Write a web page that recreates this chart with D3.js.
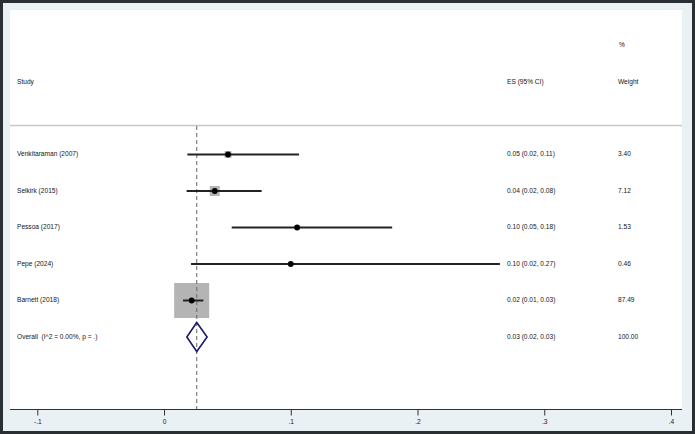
<!DOCTYPE html>
<html><head><meta charset="utf-8">
<script src="https://cdn.jsdelivr.net/npm/d3@7"></script>
<style>html,body{margin:0;padding:0;background:#fff;}svg{display:block;}text{font-family:"Liberation Sans",Arial,sans-serif;fill:#151515;white-space:pre;}</style>
</head><body><svg id="c" width="695" height="434"></svg>
<script>
const studies = ["Venkitaraman (2007)", "Selkirk (2015)", "Pessoa (2017)", "Pepe (2024)", "Barnett (2018)"];
const es = [0.0505, 0.040, 0.105, 0.100, 0.0218];
const lo = [0.0184, 0.0178, 0.0534, 0.0213, 0.015];
const hi = [0.1065, 0.077, 0.180, 0.265, 0.031];
const weights = [3.40, 7.12, 1.53, 0.46, 87.49];
const esLabels = ["0.05 (0.02, 0.11)", "0.04 (0.02, 0.08)", "0.10 (0.05, 0.18)", "0.10 (0.02, 0.27)", "0.02 (0.01, 0.03)"];
const weightLabels = ["3.40", "7.12", "1.53", "0.46", "87.49"];
const overallLabel = "Overall  (I^2 = 0.00%, p = .)";
const overallES = 0.0258, overallLo = 0.018, overallHi = 0.034;
const overallESLabel = "0.03 (0.02, 0.03)";
const overallWeightLabel = "100.00";
const tickValues = [-0.1, 0, 0.1, 0.2, 0.3, 0.4];
const tickLabels = ["-.1", "0", ".1", ".2", ".3", ".4"];

const svg = d3.select("#c");
// frame
svg.append("rect").attr("x",1.5).attr("y",1.5).attr("width",692).attr("height",431)
  .attr("fill","#eaf1f4").attr("stroke","#2a2f33").attr("stroke-width",3);
svg.append("rect").attr("x",10).attr("y",10).attr("width",672).attr("height",399).attr("fill","#fff");
svg.append("line").attr("x1",10).attr("x2",682).attr("y1",125.5).attr("y2",125.5)
  .attr("stroke","#c8c8c8").attr("stroke-width",1.5);

const x = d3.scaleLinear().domain([-0.1, 0.4]).range([37.3, 671]);
const rows = d3.range(studies.length + 1);
const y = d3.scalePoint().domain(rows).range([154.5, 337]);
const side = d3.scaleSqrt().domain([0, 87.49]).range([0, 35]);
const FS = 6.6;

// headers
const hdr = svg.append("g").attr("font-size", FS);
hdr.append("text").attr("x",17).attr("y",82).attr("dominant-baseline","middle").text("Study");
hdr.append("text").attr("x",507).attr("y",82).attr("dominant-baseline","middle").text("ES (95% CI)");
hdr.append("text").attr("x",619).attr("y",45).attr("dominant-baseline","middle").text("%");
hdr.append("text").attr("x",618).attr("y",82).attr("dominant-baseline","middle").text("Weight");

// squares
svg.append("g").selectAll("rect").data(studies).join("rect")
  .attr("x",(d,i)=>x(es[i]) - side(weights[i])/2)
  .attr("y",(d,i)=>y(i) - side(weights[i])/2)
  .attr("width",(d,i)=>side(weights[i]))
  .attr("height",(d,i)=>side(weights[i]))
  .attr("fill","#b4b4b4");

// overall dashed line
svg.append("line").attr("x1",x(overallES)).attr("x2",x(overallES)).attr("y1",126).attr("y2",409)
  .attr("stroke","#666").attr("stroke-width",1).attr("stroke-dasharray","4,3");

// CI lines
svg.append("g").selectAll("line").data(studies).join("line")
  .attr("x1",(d,i)=>x(lo[i])).attr("x2",(d,i)=>x(hi[i]))
  .attr("y1",(d,i)=>y(i)).attr("y2",(d,i)=>y(i))
  .attr("stroke","#222").attr("stroke-width",2);

// points
svg.append("g").selectAll("circle").data(studies).join("circle")
  .attr("cx",(d,i)=>x(es[i])).attr("cy",(d,i)=>y(i)).attr("r",2.9).attr("fill","#000");

// overall diamond
const oy = y(studies.length);
const dh = 14.5;
svg.append("path")
  .attr("d", `M${x(overallLo)},${oy} L${x(overallES)},${oy-dh} L${x(overallHi)},${oy} L${x(overallES)},${oy+dh} Z`)
  .attr("fill","none").attr("stroke","#1c1c6b").attr("stroke-width",1.6);

// labels
const lab = svg.append("g").attr("font-size", FS);
lab.selectAll("text.s").data(studies.concat([overallLabel])).join("text").attr("class","s")
  .attr("x",17).attr("y",(d,i)=>y(i)).attr("dominant-baseline","middle").text(d=>d);
lab.selectAll("text.e").data(esLabels.concat([overallESLabel])).join("text").attr("class","e")
  .attr("x",507).attr("y",(d,i)=>y(i)).attr("dominant-baseline","middle").text(d=>d);
lab.selectAll("text.w").data(weightLabels.concat([overallWeightLabel])).join("text").attr("class","w")
  .attr("x",618).attr("y",(d,i)=>y(i)).attr("dominant-baseline","middle").text(d=>d);

// axis
svg.append("line").attr("x1",10).attr("x2",682).attr("y1",409.5).attr("y2",409.5)
  .attr("stroke","#333").attr("stroke-width",1);
const axis = d3.axisBottom(x).tickValues(tickValues).tickSize(6).tickFormat((d,i)=>tickLabels[i]);
const ag = svg.append("g").attr("transform","translate(0,409.5)").call(axis);
ag.select(".domain").remove();
ag.selectAll(".tick line").attr("stroke","#333");
ag.selectAll(".tick text").attr("font-size",FS).attr("font-family","Liberation Sans, Arial, sans-serif").attr("fill","#151515").attr("dy","0.85em");
</script></body></html>
